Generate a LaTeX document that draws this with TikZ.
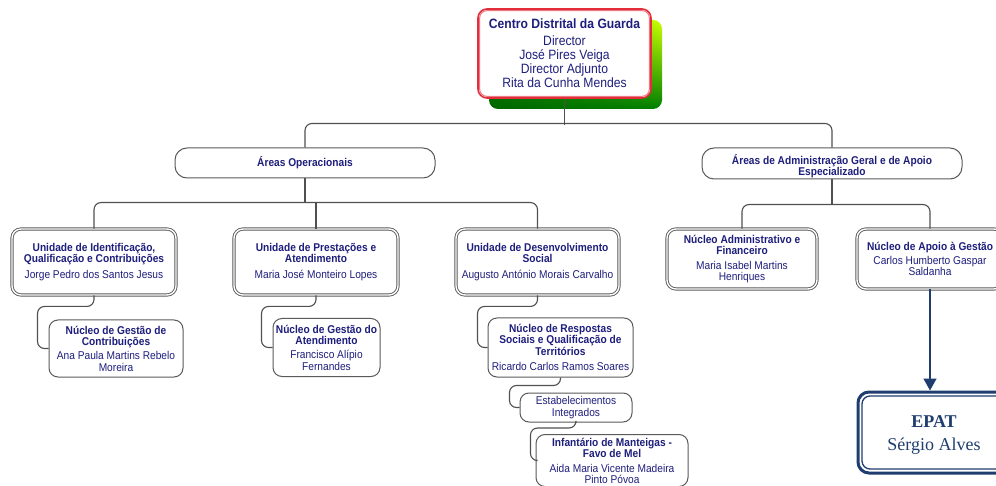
\documentclass[tikz,border=0pt]{standalone}
\usepackage{fontspec}
\setmainfont{Liberation Sans}[FakeStretch=0.9]
\newfontfamily\epatfont{Liberation Serif}
\usetikzlibrary{arrows.meta,calc,shadings}
\definecolor{navytxt}{RGB}{30,30,125}
\definecolor{linegray}{RGB}{80,80,80}
\definecolor{boxgray}{RGB}{90,90,90}
\definecolor{epatblue}{RGB}{31,61,110}
\definecolor{redb}{RGB}{225,45,60}
\definecolor{pinkb}{RGB}{238,120,130}
\tikzset{
  conn/.style={draw=linegray, line width=1.1pt, rounded corners=7pt},
  basebox/.style={fill=white, align=center, inner sep=0pt, text=navytxt,
    font=\fontsize{11.3}{11.3}\selectfont},
  plaintext/.style={align=center, inner sep=0pt, text=navytxt,
    font=\fontsize{11.3}{11}\selectfont},
  lvltwo/.style={basebox, draw=boxgray, double=white, double distance=1.4pt,
    line width=0.9pt, rounded corners=9pt},
  lvlthree/.style={basebox, draw=boxgray, line width=1pt, rounded corners=9pt},
  areabox/.style={basebox, draw=boxgray, line width=1pt, rounded corners=12pt,
    minimum width=260pt},
  topbox/.style={fill=white, align=center, inner sep=0pt, text=navytxt,
    draw=redb, line width=1.6pt, rounded corners=9pt,
    font=\fontsize{13.5}{14}\selectfont},
  epatbox/.style={fill=white, inner sep=0pt, draw=epatblue, line width=3pt,
    rounded corners=11pt},
  epattext/.style={align=center, inner sep=0pt, text=epatblue,
    font=\epatfont\fontsize{18}{23}\selectfont},
  arrowc/.style={draw=epatblue, line width=1.5pt, -{Triangle[width=13pt,length=12pt]}}
}
\begin{document}
\begin{tikzpicture}[x=1pt,y=-1pt]
\clip (0,0) rectangle (996,486);
\fill[white] (0,0) rectangle (996,486);

% shadow of top box
\shade[rounded corners=9pt, upper left=green!55!black, upper right=yellow!80!green,
  lower left=green!40!black, lower right=green!50!black] (489,20) rectangle (662,109);

\node[topbox, minimum width=173pt, minimum height=89pt] (top) at (564.5,53.5)
  {\textbf{Centro Distrital da Guarda}\\[3pt]Director\\José Pires Veiga\\Director Adjunto\\Rita da Cunha Mendes};
\draw[pinkb, line width=1pt, rounded corners=7pt]
  ([shift={(2.5,2.5)}]top.north west) rectangle ([shift={(-2.5,-2.5)}]top.south east);

% level 1
\node[areabox, minimum height=30pt] (ops) at (305,163) {\textbf{Áreas Operacionais}};
\node[areabox, minimum height=31pt] (adm) at (832,163.5) {};
\node[plaintext] (admt) at ([yshift=-3pt]adm.center)
  {\textbf{Áreas de Administração Geral e de Apoio}\\\textbf{Especializado}};

% level 2
\node[lvltwo, minimum width=164pt, minimum height=66pt] (u1) at (94,262)
  {\textbf{Unidade de Identificação,}\\\textbf{Qualificação e Contribuições}\\[4pt]Jorge Pedro dos Santos Jesus};
\node[lvltwo, minimum width=164pt, minimum height=66pt] (u2) at (316,262)
  {\textbf{Unidade de Prestações e}\\\textbf{Atendimento}\\[4pt]Maria José Monteiro Lopes};
\node[lvltwo, minimum width=163pt, minimum height=66pt] (u3) at (537.5,262)
  {\textbf{Unidade de Desenvolvimento}\\\textbf{Social}\\[4pt]Augusto António Morais Carvalho};
\node[lvltwo, minimum width=150pt, minimum height=60pt] (na) at (742,259)
  {\textbf{Núcleo Administrativo e}\\\textbf{Financeiro}\\[3pt]Maria Isabel Martins\\Henriques};
\node[lvltwo, minimum width=146pt, minimum height=60pt] (ng) at (930,259)
  {\textbf{Núcleo de Apoio à Gestão}\\[3pt]Carlos Humberto Gaspar\\Saldanha};

% level 3
\node[lvlthree, minimum width=134pt, minimum height=57pt] (n1) at (116,348.5)
  {\textbf{Núcleo de Gestão de}\\\textbf{Contribuições}\\[3pt]Ana Paula Martins Rebelo\\Moreira};
\node[lvlthree, minimum width=107pt, minimum height=58pt] (n2) at (326.5,347.5)
  {\textbf{Núcleo de Gestão do}\\\textbf{Atendimento}\\[3pt]Francisco Alípio\\Fernandes};
\node[lvlthree, minimum width=145pt, minimum height=59pt] (n3) at (560.5,347.5)
  {\textbf{Núcleo de Respostas}\\\textbf{Sociais e Qualificação de}\\\textbf{Territórios}\\[4pt]Ricardo Carlos Ramos Soares};
\node[lvlthree, minimum width=112pt, minimum height=29pt] (est) at (576,407.5)
  {Estabelecimentos\\Integrados};
\node[lvlthree, minimum width=152pt, minimum height=52pt,
  font=\fontsize{11.3}{10.5}\selectfont] (inf) at (612,460.5)
  {\textbf{Infantário de Manteigas -}\\\textbf{Favo de Mel}\\[4.5pt]Aida Maria Vicente Madeira\\Pinto Póvoa};

% EPAT
\node[epatbox, minimum width=152pt, minimum height=81pt] (epat) at (934,432.5) {};
\draw[epatblue, line width=1.3pt, rounded corners=8pt]
  ([shift={(5.5,5.5)}]epat.north west) rectangle ([shift={(-5.5,-5.5)}]epat.south east);
\node[epattext] (epatt) at ([shift={(0pt,-2.5pt)}]epat.center) {\textbf{EPAT}\\Sérgio Alves};

% connectors
\draw[conn] (top.south) -- ++(0,26);
\draw[conn] (ops.north) -- ++(0,-24) -| (adm.north);
\draw[conn] (ops.south) -- ++(0,25);
\draw[conn] (u1.north) -- ++(0,-26) -| (u3.north);
\draw[conn] (u2.north) -- ++(0,-26);
\draw[conn] (adm.south) -- ++(0,26);
\draw[conn] (na.north) -- ++(0,-24) -| (ng.north);

\draw[conn] (u1.south) -- ++(0,11) -| ([xshift=-11pt]n1.west) -- (n1.west);
\draw[conn] (u2.south) -- ++(0,11) -| ([xshift=-11pt]n2.west) -- (n2.west);
\draw[conn] (u3.south) -- ++(0,11) -| ([xshift=-10pt]n3.west) -- (n3.west);
\draw[conn] (n3.south) -- ++(0,8) -| ([xshift=-10pt]est.west) -- (est.west);
\draw[conn] (est.south) -- ++(0,5.5) -| ([xshift=-5pt]inf.west) -- (inf.west);

\draw[arrowc] (ng.south) -- (ng.south |- epat.north);
\end{tikzpicture}
\end{document}
